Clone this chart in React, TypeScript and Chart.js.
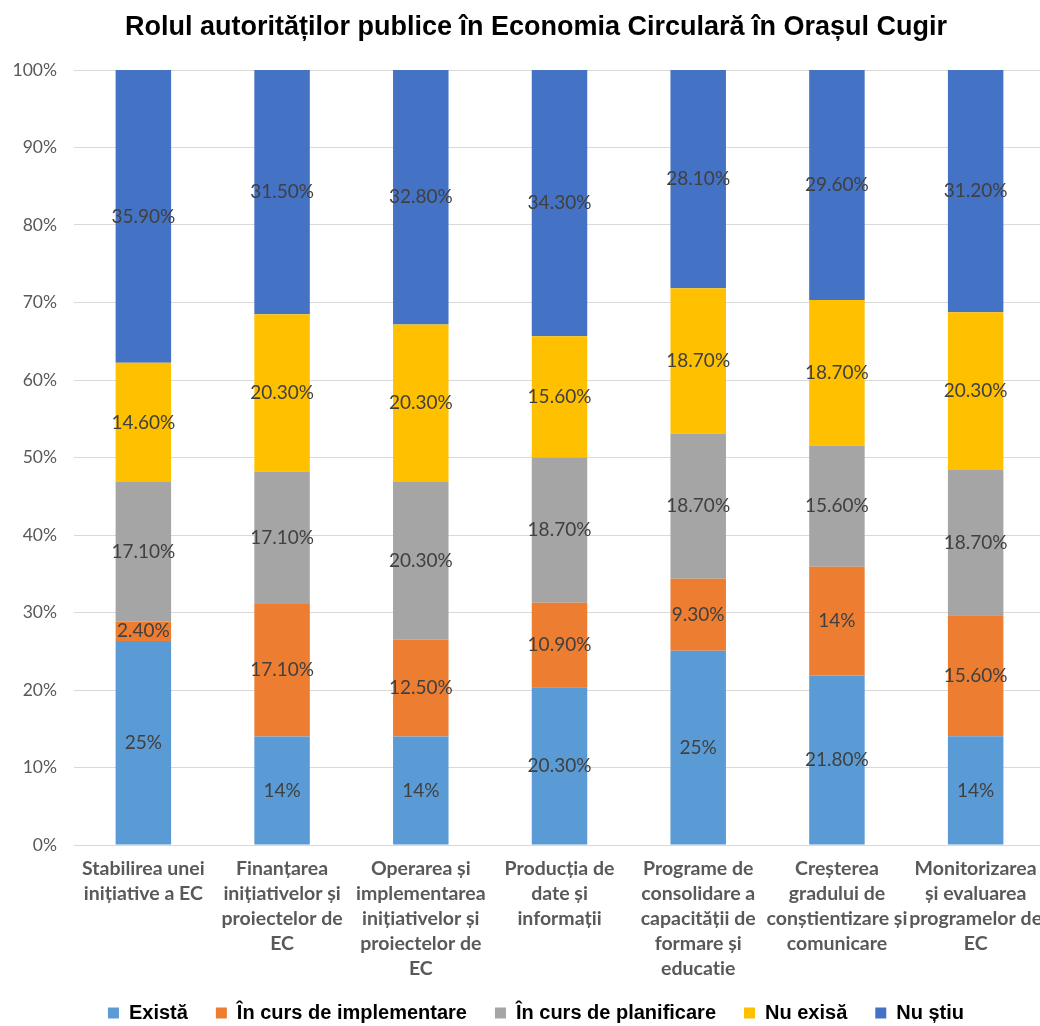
import React, { useEffect, useRef } from "react";
import { Chart, registerables } from "chart.js";

Chart.register(...registerables);

const categories: string[][] = [
  ["Stabilirea unei", "inițiative a EC"],
  ["Finanțarea", "inițiativelor și", "proiectelor de", "EC"],
  ["Operarea și", "implementarea", "inițiativelor și", "proiectelor de", "EC"],
  ["Producția de", "date și", "informații"],
  ["Programe de", "consolidare a", "capacității de", "formare și", "educație"],
  ["Creșterea", "gradului de", "conștientizare și", "comunicare"],
  ["Monitorizarea", "și evaluarea", "programelor de", "EC"],
];

const seriesNames = ["Există", "În curs de implementare", "În curs de planificare", "Nu exisă", "Nu știu"];
const exista = [25, 14, 14, 20.3, 25, 21.8, 14];
const implementare = [2.4, 17.1, 12.5, 10.9, 9.3, 14, 15.6];
const planificare = [17.1, 17.1, 20.3, 18.7, 18.7, 15.6, 18.7];
const nuExisa = [14.6, 20.3, 20.3, 15.6, 18.7, 18.7, 20.3];
const nuStiu = [35.9, 31.5, 32.8, 34.3, 28.1, 29.6, 31.2];
const seriesColors = ["#5B9BD5", "#ED7D31", "#A5A5A5", "#FFC000", "#4472C4"];
const yTicks = [0, 10, 20, 30, 40, 50, 60, 70, 80, 90, 100];

const allSeries = [exista, implementare, planificare, nuExisa, nuStiu];

const fmt = (v: number) => (Number.isInteger(v) ? `${v}%` : `${v.toFixed(2)}%`);

const W = 1072;
const H = 1033;

const labelPlugin = {
  id: "segLabels",
  afterDatasetsDraw(chart: any) {
    const ctx = chart.ctx;
    ctx.save();
    ctx.font = "19px Lato";
    ctx.fillStyle = "#404040";
    ctx.textAlign = "center";
    ctx.textBaseline = "middle";
    chart.data.datasets.forEach((ds: any, di: number) => {
      const meta = chart.getDatasetMeta(di);
      meta.data.forEach((el: any, i: number) => {
        const raw = ds.rawValues[i];
        const y = (el.y + el.base) / 2;
        ctx.fillText(fmt(raw), el.x, y);
      });
    });
    ctx.restore();
  },
};

export default function App() {
  const ref = useRef<HTMLCanvasElement | null>(null);

  useEffect(() => {
    document.documentElement.style.overflow = "hidden";
    document.body.style.overflow = "hidden";
    document.body.style.margin = "0";
    const totals = categories.map((_, i) => allSeries.reduce((s, a) => s + a[i], 0));
    const chart = new Chart(ref.current as HTMLCanvasElement, {
      type: "bar",
      data: {
        labels: categories,
        datasets: allSeries.map((vals, si) => ({
          label: seriesNames[si],
          data: vals.map((v, i) => (v / totals[i]) * 100),
          rawValues: vals,
          backgroundColor: seriesColors[si],
          borderWidth: 0,
          categoryPercentage: 1,
          barPercentage: 0.4,
        })) as any,
      },
      options: {
        responsive: false,
        animation: false,
        layout: { padding: { left: 0, right: 0, top: 0, bottom: 0 } },
        plugins: {
          tooltip: { enabled: false },
          title: {
            display: true,
            text: "Rolul autorităților publice în Economia Circulară în Orașul Cugir",
            color: "#000000",
            font: { family: "Liberation Sans", size: 27, weight: "bold" },
            padding: { top: 11, bottom: 26.6 },
          },
          legend: {
            position: "bottom",
            labels: {
              boxWidth: 11,
              boxHeight: 11,
              padding: 28,
              color: "#000000",
              font: { family: "Liberation Sans", size: 20, weight: "bold" },
            },
          },
        },
        scales: {
          x: {
            stacked: true,
            grid: { display: false, drawTicks: false },
            border: { display: true, color: "#D9D9D9", width: 1 },
            ticks: {
              color: "#595959",
              font: { family: "Lato", size: 19.5, weight: "bold", lineHeight: 25 / 19.5 },
              padding: 11,
              maxRotation: 0,
              minRotation: 0,
              autoSkip: false,
            },
            afterFit: (scale: any) => {
              scale.height = 130;
            },
          },
          y: {
            stacked: true,
            min: 0,
            max: 100,
            grid: { color: "#D9D9D9", lineWidth: 1, drawTicks: false },
            border: { display: false },
            afterBuildTicks: (scale: any) => {
              scale.ticks = yTicks.map((v) => ({ value: v }));
            },
            ticks: {
              color: "#595959",
              font: { family: "Lato", size: 17.5 },
              padding: 17,
              callback: (v: any) => `${v}%`,
            },
            afterFit: (scale: any) => {
              scale.width = 74;
            },
          },
          spacer: {
            type: "linear",
            position: "right",
            display: true,
            min: 0,
            max: 1,
            grid: { display: false, drawTicks: false },
            border: { display: false },
            ticks: { display: false },
            afterFit: (scale: any) => {
              scale.width = 27;
            },
          },
        },
      } as any,
      plugins: [labelPlugin],
    });
    return () => chart.destroy();
  }, []);

  return (
    <div style={{ position: "fixed", left: 0, top: 0, width: W, height: H, background: "#fff" }}>
      <canvas ref={ref} width={W} height={H} style={{ width: W, height: H, display: "block" }} />
    </div>
  );
}
